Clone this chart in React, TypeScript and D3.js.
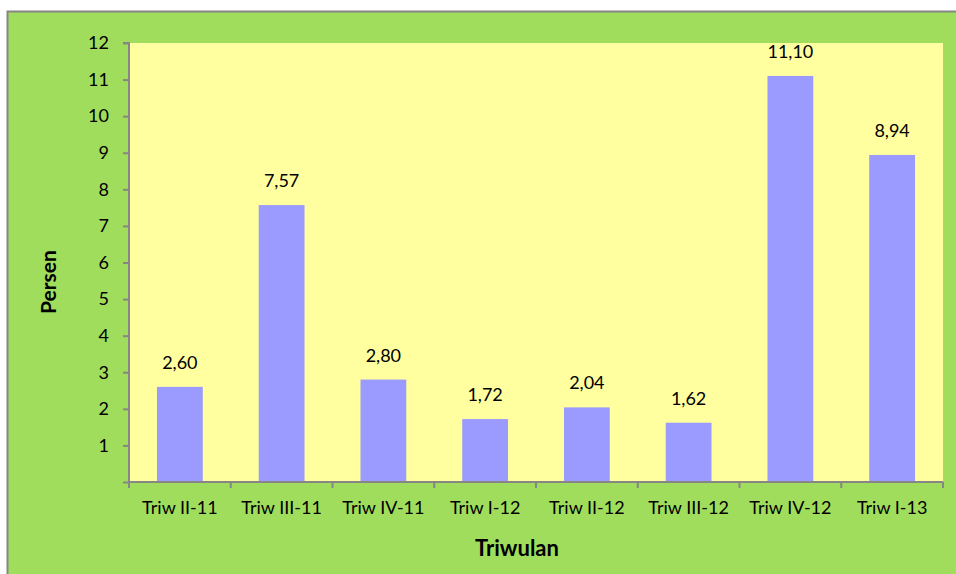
import React, { useEffect, useRef } from "react";
import * as d3 from "d3";

const categories = ["Triw II-11", "Triw III-11", "Triw IV-11", "Triw I-12", "Triw II-12", "Triw III-12", "Triw IV-12", "Triw I-13"];
const values = [2.6, 7.57, 2.8, 1.72, 2.04, 1.62, 11.1, 8.94];
const yTicks = [1, 2, 3, 4, 5, 6, 7, 8, 9, 10, 11, 12];

const font = "Lato, 'Open Sans', sans-serif";

const App = () => {
  const ref = useRef<SVGSVGElement>(null);

  useEffect(() => {
    const width = 956;
    const height = 574;
    const plot = { left: 129, right: 943, top: 43, bottom: 482 };

    const svg = d3.select(ref.current);
    svg.selectAll("*").remove();

    // background + outer border
    svg.append("rect")
      .attr("x", 7.5).attr("y", 11.5)
      .attr("width", width + 20).attr("height", height + 20)
      .attr("fill", "#a0dd5c")
      .attr("stroke", "#868686")
      .attr("stroke-width", 2);

    const x = d3.scaleBand().domain(categories).range([plot.left, plot.right]).paddingInner(0.55).paddingOuter(0.275);
    const xTick = d3.scaleBand().domain(categories).range([plot.left, plot.right]);
    const y = d3.scaleLinear().domain([0, 12]).range([plot.bottom, plot.top]);

    // plot area
    svg.append("rect")
      .attr("x", plot.left).attr("y", plot.top)
      .attr("width", plot.right - plot.left).attr("height", plot.bottom - plot.top)
      .attr("fill", "#ffffa0");

    // bars
    svg.append("g").selectAll("rect").data(values).join("rect")
      .attr("x", (d, i) => x(categories[i]) as number)
      .attr("y", d => y(d))
      .attr("width", x.bandwidth())
      .attr("height", d => y(0) - y(d))
      .attr("fill", "#9b9bff");

    // value labels
    svg.append("g").selectAll("text").data(values).join("text")
      .attr("x", (d, i) => (x(categories[i]) as number) + x.bandwidth() / 2)
      .attr("y", d => y(d) - 18)
      .attr("text-anchor", "middle")
      .style("font-family", font)
      .style("font-size", "18px")
      .attr("fill", "#000")
      .text(d => d.toFixed(2).replace(".", ","));

    // y axis
    const yAxis = svg.append("g")
      .attr("transform", `translate(${plot.left},0)`)
      .call(d3.axisLeft(y).tickValues([0, ...yTicks]).tickSize(6).tickFormat(d => (d === 0 ? "" : String(d))));
    yAxis.select(".domain").attr("stroke", "#868686").attr("stroke-width", 2).attr("d", `M-6,${plot.top}H0V${plot.bottom}`);
    yAxis.selectAll(".tick line").attr("stroke", "#868686").attr("stroke-width", 2);
    yAxis.selectAll(".tick text")
      .attr("x", -20)
      .style("font-family", font).style("font-size", "18px").attr("fill", "#000");

    // x axis
    const xAxis = svg.append("g")
      .attr("transform", `translate(0,${plot.bottom})`)
      .call(d3.axisBottom(xTick).tickSize(0).tickPadding(19));
    xAxis.select(".domain").attr("stroke", "#868686").attr("stroke-width", 2).attr("d", `M${plot.left},0H${plot.right}`);
    xAxis.selectAll(".tick text").style("font-family", font).style("font-size", "18px").attr("fill", "#000");
    const boundaries = categories.map(c => xTick(c) as number).concat([plot.right]);
    xAxis.append("g").selectAll("line").data(boundaries).join("line")
      .attr("x1", d => d).attr("x2", d => d)
      .attr("y1", 0).attr("y2", 6)
      .attr("stroke", "#868686").attr("stroke-width", 2);

    // axis titles
    svg.append("text")
      .attr("x", 517)
      .attr("y", 556)
      .attr("text-anchor", "middle")
      .style("font-family", font).style("font-size", "22px").style("font-weight", "bold")
      .text("Triwulan");

    svg.append("text")
      .attr("transform", `translate(56,282) rotate(-90)`)
      .attr("text-anchor", "middle")
      .style("font-family", font).style("font-size", "21px").style("font-weight", "bold")
      .text("Persen");
  }, []);

  return (
    <div style={{ position: "absolute", left: 0, top: 0 }}>
      <svg ref={ref} width={956} height={574} style={{ display: "block" }} />
    </div>
  );
};

export default App;
